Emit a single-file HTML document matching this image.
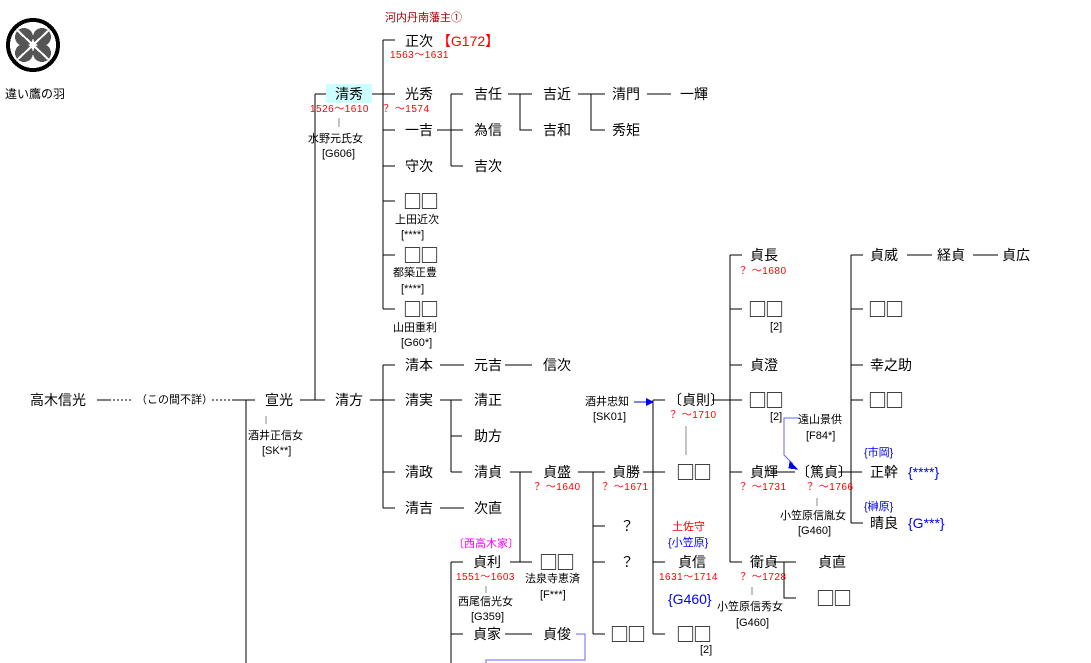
<!DOCTYPE html>
<html><head><meta charset="utf-8"><style>
body{margin:0;width:1091px;height:663px;background:#fff;position:relative;overflow:hidden;font-family:"Liberation Sans","Noto Sans CJK JP",sans-serif;}
.t{position:absolute;font-size:14px;line-height:16px;white-space:nowrap;color:#000}
.q{font-family:"Noto Sans CJK JP",sans-serif;font-size:19px;line-height:16px;letter-spacing:-2px;margin-left:-2px}
.d{position:absolute;font-size:10px;line-height:12px;white-space:nowrap;color:#f00;letter-spacing:0.5px}
.n{position:absolute;font-size:11px;line-height:13px;white-space:nowrap;color:#000}
.b{color:#00f}
svg{position:absolute;left:0;top:0}
</style></head><body>
<svg width="1091" height="663" stroke="#000" stroke-width="1" fill="none" shape-rendering="crispEdges">
<circle cx="33" cy="45" r="25" stroke-width="4"/>
<circle cx="24" cy="37" r="9" fill="#555" stroke="none"/><circle cx="42" cy="37" r="9" fill="#555" stroke="none"/>
<circle cx="24" cy="53" r="9" fill="#555" stroke="none"/><circle cx="42" cy="53" r="9" fill="#555" stroke="none"/>
<path d="M17 30 L49 60 M49 30 L17 60" stroke="#fff" stroke-width="2"/>
<path d="M383 40V309 M383 40H395 M372 94H395 M383 130H395 M383 166H395 M383 201H395 M383 255H395 M383 309H395"/>
<path d="M315 94V400 M315 94H326"/>
<path d="M437 130H463 M451 94V166 M451 94H463 M451 166H463"/>
<path d="M508 94H532 M520 94V130H532 M578 94H605 M591 94V130H605 M647 94H671"/>
<path d="M339 118V127" stroke="#888"/>
<path d="M97 400H109 M232 400H255 M246 400V663"/>
<path d="M109 400H132 M212 400H232" stroke-dasharray="2,2"/>
<path d="M266 416V424" stroke="#888"/>
<path d="M300 400H325 M370 400H395 M383 365V508 M383 365H395 M383 472H395 M383 508H395"/>
<path d="M440 365H464 M505 365H532 M440 400H462 M451 400V472 M451 436H462 M451 472H462 M440 508H464"/>
<path d="M510 472H532 M520 472V562 M510 562H532"/>
<path d="M578 472H605 M593 472V634 M593 526H605 M593 562H605 M593 634H605"/>
<path d="M643 472H665 M653 400V634 M653 400H665 M653 562H665 M653 634H665"/>
<path d="M686 426V455" stroke="#888"/>
<path d="M712 400H742 M730 255V562 M730 255H742 M730 309H742 M730 365H742 M730 472H742 M730 562H742"/>
<path d="M774 562H796 M784 562V598H796"/>
<path d="M772 472H795 M838 472H862 M851 255V523 M851 255H863 M851 309H863 M851 365H863 M851 400H863 M851 523H863"/>
<path d="M907 255H932 M973 255H998"/>
<path d="M817 498V506 M752 587V595 M486 586V593" stroke="#888"/>
<path d="M451 562V663 M451 562H463 M451 634H463 M505 634H532"/>
<path d="M576 634H585V660H486V663" stroke="#66f"/>
<path d="M800 418H784V455L793 464" stroke="#66f"/>
<path d="M634 402H646" stroke="#00f"/>
<polygon points="646,398 654,402 646,406" fill="#00f" stroke="none"/>
<polygon points="790,462 797,469 789,468" fill="#00f" stroke="#00f"/>
</svg>
<div style="position:absolute;left:326px;top:84px;width:46px;height:19px;background:#ccffff"></div>
<div class="n" style="left:5px;top:88px;font-size:12px">違い鷹の羽</div>
<div class="n" style="left:385px;top:12px;color:#900">河内丹南藩主①</div>
<div class="t" style="left:405px;top:33px">正次 <span style="color:#f00">【G172】</span></div>
<div class="d" style="left:390px;top:50px">1563〜1631</div>
<div class="t" style="left:335px;top:86px">清秀</div>
<div class="d" style="left:310px;top:104px">1526〜1610</div>
<div class="n" style="left:308px;top:133px">水野元氏女</div>
<div class="n" style="left:322px;top:148px">[G606]</div>
<div class="t" style="left:405px;top:86px">光秀</div>
<div class="d" style="left:381px;top:104px">？ 〜1574</div>
<div class="t" style="left:405px;top:122px">一吉</div>
<div class="t" style="left:405px;top:158px">守次</div>
<div class="t q" style="left:405px;top:193px">□□</div>
<div class="n" style="left:395px;top:214px">上田近次</div>
<div class="n" style="left:401px;top:229px">[****]</div>
<div class="t q" style="left:405px;top:247px">□□</div>
<div class="n" style="left:393px;top:267px">都築正豊</div>
<div class="n" style="left:401px;top:283px">[****]</div>
<div class="t q" style="left:405px;top:301px">□□</div>
<div class="n" style="left:393px;top:322px">山田重利</div>
<div class="n" style="left:401px;top:337px">[G60*]</div>
<div class="t" style="left:474px;top:86px">吉任</div>
<div class="t" style="left:474px;top:122px">為信</div>
<div class="t" style="left:474px;top:158px">吉次</div>
<div class="t" style="left:543px;top:86px">吉近</div>
<div class="t" style="left:543px;top:122px">吉和</div>
<div class="t" style="left:612px;top:86px">清門</div>
<div class="t" style="left:612px;top:122px">秀矩</div>
<div class="t" style="left:680px;top:86px">一輝</div>
<div class="t" style="left:30px;top:392px">高木信光</div>
<div class="n" style="left:136px;top:394px">（この間不詳）</div>
<div class="t" style="left:265px;top:392px">宣光</div>
<div class="n" style="left:248px;top:430px">酒井正信女</div>
<div class="n" style="left:262px;top:445px">[SK**]</div>
<div class="t" style="left:335px;top:392px">清方</div>
<div class="t" style="left:405px;top:357px">清本</div>
<div class="t" style="left:405px;top:392px">清実</div>
<div class="t" style="left:405px;top:464px">清政</div>
<div class="t" style="left:405px;top:500px">清吉</div>
<div class="t" style="left:474px;top:357px">元吉</div>
<div class="t" style="left:543px;top:357px">信次</div>
<div class="t" style="left:474px;top:392px">清正</div>
<div class="t" style="left:474px;top:428px">助方</div>
<div class="t" style="left:474px;top:464px">清貞</div>
<div class="t" style="left:474px;top:500px">次直</div>
<div class="t" style="left:543px;top:464px">貞盛</div>
<div class="d" style="left:532px;top:482px">？ 〜1640</div>
<div class="t" style="left:612px;top:464px">貞勝</div>
<div class="d" style="left:600px;top:482px">？ 〜1671</div>
<div class="t" style="left:620px;top:518px">？</div>
<div class="t" style="left:620px;top:554px">？</div>
<div class="t q" style="left:612px;top:626px">□□</div>
<div class="n" style="left:585px;top:396px">酒井忠知</div>
<div class="n" style="left:593px;top:411px">[SK01]</div>
<div class="t" style="left:668px;top:392px">〔貞則〕</div>
<div class="d" style="left:668px;top:410px">？ 〜1710</div>
<div class="t q" style="left:678px;top:464px">□□</div>
<div class="n" style="left:672px;top:521px;color:#f00">土佐守</div>
<div class="n b" style="left:668px;top:537px">{小笠原}</div>
<div class="t" style="left:678px;top:554px">貞信</div>
<div class="d" style="left:659px;top:572px">1631〜1714</div>
<div class="t b" style="left:668px;top:591px">{G460}</div>
<div class="t q" style="left:678px;top:626px">□□</div>
<div class="n" style="left:700px;top:644px">[2]</div>
<div class="t" style="left:750px;top:247px">貞長</div>
<div class="d" style="left:738px;top:266px">？ 〜1680</div>
<div class="t q" style="left:750px;top:301px">□□</div>
<div class="n" style="left:770px;top:321px">[2]</div>
<div class="t" style="left:750px;top:357px">貞澄</div>
<div class="t q" style="left:750px;top:392px">□□</div>
<div class="n" style="left:770px;top:411px">[2]</div>
<div class="t" style="left:750px;top:464px">貞輝</div>
<div class="d" style="left:738px;top:482px">？ 〜1731</div>
<div class="t" style="left:750px;top:554px">衛貞</div>
<div class="d" style="left:738px;top:572px">？ 〜1728</div>
<div class="n" style="left:717px;top:601px">小笠原信秀女</div>
<div class="n" style="left:736px;top:617px">[G460]</div>
<div class="t" style="left:818px;top:554px">貞直</div>
<div class="t q" style="left:818px;top:590px">□□</div>
<div class="n" style="left:798px;top:414px">遠山景供</div>
<div class="n" style="left:806px;top:430px">[F84*]</div>
<div class="t" style="left:796px;top:464px">〔篤貞〕</div>
<div class="d" style="left:805px;top:482px">？ 〜1766</div>
<div class="n" style="left:780px;top:510px">小笠原信胤女</div>
<div class="n" style="left:798px;top:525px">[G460]</div>
<div class="t" style="left:870px;top:247px">貞威</div>
<div class="t" style="left:937px;top:247px">経貞</div>
<div class="t" style="left:1002px;top:247px">貞広</div>
<div class="t q" style="left:870px;top:301px">□□</div>
<div class="t" style="left:870px;top:357px">幸之助</div>
<div class="t q" style="left:870px;top:392px">□□</div>
<div class="n b" style="left:864px;top:447px">{市岡}</div>
<div class="t" style="left:870px;top:464px">正幹</div>
<div class="t b" style="left:908px;top:464px">{****}</div>
<div class="n b" style="left:864px;top:501px">{榊原}</div>
<div class="t" style="left:870px;top:515px">晴良</div>
<div class="t b" style="left:908px;top:515px">{G***}</div>
<div class="n" style="left:453px;top:538px;color:#f0f">〔西高木家〕</div>
<div class="t" style="left:473px;top:554px">貞利</div>
<div class="d" style="left:456px;top:572px">1551〜1603</div>
<div class="n" style="left:458px;top:596px">西尾信光女</div>
<div class="n" style="left:471px;top:611px">[G359]</div>
<div class="t" style="left:473px;top:626px">貞家</div>
<div class="t" style="left:543px;top:626px">貞俊</div>
<div class="t q" style="left:541px;top:554px">□□</div>
<div class="n" style="left:525px;top:573px">法泉寺恵済</div>
<div class="n" style="left:540px;top:589px">[F***]</div>
</body></html>
